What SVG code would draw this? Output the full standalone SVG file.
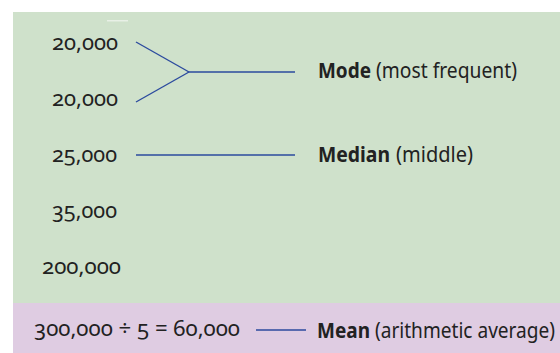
<svg xmlns="http://www.w3.org/2000/svg" width="560" height="353" viewBox="0 0 560 353">
<style>
.num{font-family:"Noto Sans","Open Sans",sans-serif;font-size:22px;fill:#222;font-variant-numeric:oldstyle-nums;text-anchor:end}
.lbl{font-family:"Noto Sans","Open Sans",sans-serif;font-size:22px;fill:#222}
.b{font-weight:bold}
.conn line{stroke:#2b4a9e;stroke-width:1.4;fill:none}
</style>
<rect x="0" y="0" width="560" height="353" fill="#ffffff"/>
<rect x="13" y="12" width="547" height="291" fill="#cfe1cb"/>
<rect x="13" y="303" width="547" height="50" fill="#dfcce2"/>
<rect x="107" y="20" width="21" height="1.5" fill="#e8f0e6"/>
<g id="v1"><text class="num" x="118" y="50" textLength="66" lengthAdjust="spacingAndGlyphs">20,000</text></g>
<g id="v2"><text class="num" x="118" y="106" textLength="66" lengthAdjust="spacingAndGlyphs">20,000</text></g>
<g id="v3"><text class="num" x="117" y="162" textLength="65" lengthAdjust="spacingAndGlyphs">25,000</text></g>
<g id="v4"><text class="num" x="117" y="218" textLength="65" lengthAdjust="spacingAndGlyphs">35,000</text></g>
<g id="v5"><text class="num" x="121" y="274" textLength="79" lengthAdjust="spacingAndGlyphs">200,000</text></g>
<g id="calc"><text class="num" x="240" y="336" textLength="206" lengthAdjust="spacingAndGlyphs">300,000 ÷ 5 = 60,000</text></g>
<g id="mode"><text class="lbl" x="318" y="78"><tspan class="b" textLength="53" lengthAdjust="spacingAndGlyphs">Mode</tspan><tspan x="376" textLength="141" lengthAdjust="spacingAndGlyphs">(most frequent)</tspan></text></g>
<g id="median"><text class="lbl" x="318" y="162"><tspan class="b" textLength="72" lengthAdjust="spacingAndGlyphs">Median</tspan><tspan x="396" textLength="77" lengthAdjust="spacingAndGlyphs">(middle)</tspan></text></g>
<g id="mean"><text class="lbl" x="317" y="338"><tspan class="b" textLength="53" lengthAdjust="spacingAndGlyphs">Mean</tspan><tspan x="375" textLength="180" lengthAdjust="spacingAndGlyphs">(arithmetic average)</tspan></text></g>
<g class="conn">
<line x1="136" y1="42" x2="189" y2="72"/>
<line x1="136" y1="102" x2="189" y2="72"/>
<line x1="189" y1="72" x2="295" y2="72"/>
<line x1="136" y1="155" x2="295" y2="155"/>
<line x1="256" y1="330" x2="306" y2="330"/>
</g>
</svg>
